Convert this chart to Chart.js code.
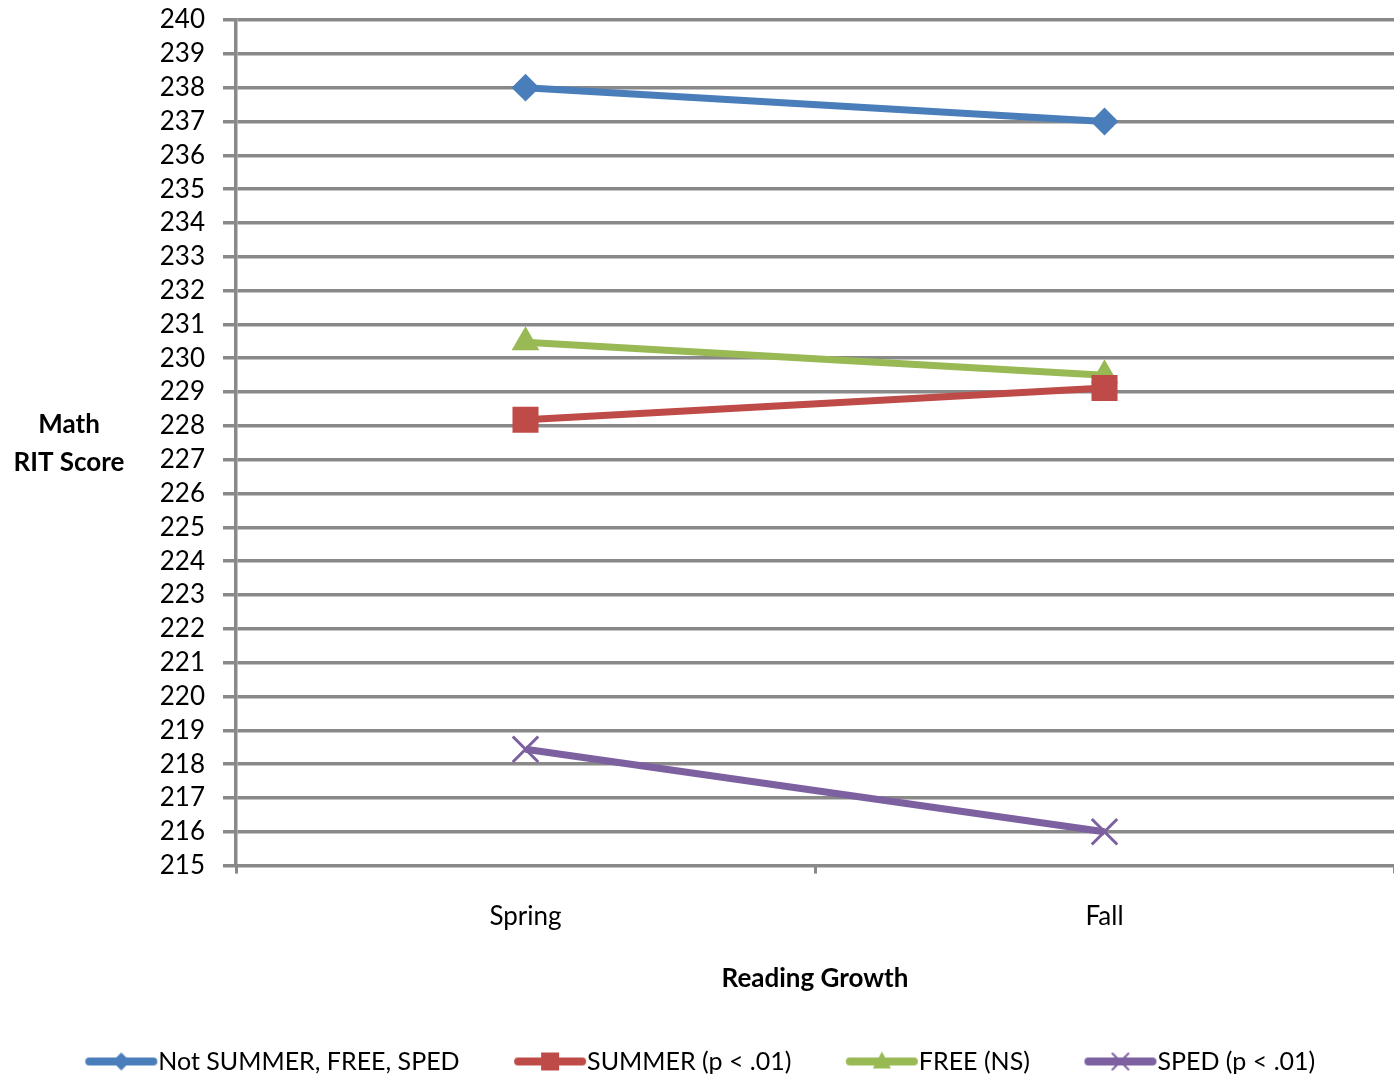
<!DOCTYPE html>
<html>
<head>
<meta charset="utf-8">
<script src="https://cdn.jsdelivr.net/npm/chart.js@4/dist/chart.umd.min.js"></script>
<style>
  html, body { margin: 0; padding: 0; background: #fff; overflow: hidden; }
  canvas { display: block; }
</style>
</head>
<body>
<canvas id="ritChart" width="1394" height="1076"></canvas>
<script>
const seasons = ["Spring", "Fall"]
const notSummerFreeSped = [238, 237]
const summer = [228.18, 229.12]
const free = [230.47, 229.5]
const sped = [218.44, 216]
const seriesNames = ["Not SUMMER, FREE, SPED", "SUMMER (p < .01)", "FREE (NS)", "SPED (p < .01)"]

const gridGray = "#898989"
const FONT = "Lato"

// line + marker swatch for the legend; legend box is 67 wide, image is 92 wide
// centred on it, so the line runs from box x+7 to x+77 (just before the text)
function legendSwatch(color, style) {
  const c = document.createElement("canvas")
  c.width = 92
  c.height = 26
  const g = c.getContext("2d")
  g.strokeStyle = color
  g.fillStyle = color
  g.lineWidth = 8
  g.lineCap = "round"
  g.beginPath()
  g.moveTo(23, 13)
  g.lineTo(87, 13)
  g.stroke()
  const x = 55, y = 13
  g.beginPath()
  if (style === "rectRot") {
    g.moveTo(x - 9, y); g.lineTo(x, y - 9); g.lineTo(x + 9, y); g.lineTo(x, y + 9); g.closePath(); g.fill()
  } else if (style === "rect") {
    g.rect(x - 9, y - 9, 18, 18); g.fill()
  } else if (style === "triangle") {
    g.moveTo(x, y - 10); g.lineTo(x + 9, y + 7); g.lineTo(x - 9, y + 7); g.closePath(); g.fill()
  } else {
    g.lineWidth = 2
    g.moveTo(x - 8, y - 8); g.lineTo(x + 8, y + 8)
    g.moveTo(x + 8, y - 8); g.lineTo(x - 8, y + 8)
    g.stroke()
  }
  return c
}

const styles = [
  { color: "#4A7EBB", point: "rectRot", radius: 12.5, border: 2 },
  { color: "#BE4B48", point: "rect", radius: 17, border: 2 },
  { color: "#98B954", point: "triangle", radius: 14, border: 2 },
  { color: "#7D60A0", point: "crossRot", radius: 18, border: 3 },
]
const values = [notSummerFreeSped, summer, free, sped]

// horizontal y-axis title on the left
const sideTitle = {
  id: "sideTitle",
  afterDraw(chart) {
    const ctx = chart.ctx
    ctx.save()
    ctx.font = "bold 26px " + FONT
    ctx.fillStyle = "#000"
    ctx.textAlign = "center"
    ctx.textBaseline = "middle"
    ctx.fillText("Math", 69, 425)
    ctx.fillText("RIT Score", 69, 463)
    ctx.restore()
  },
}

new Chart(document.getElementById("ritChart"), {
  type: "line",
  data: {
    labels: seasons,
    datasets: values.map((d, i) => ({
      label: seriesNames[i],
      data: d,
      borderColor: styles[i].color,
      backgroundColor: styles[i].color,
      borderWidth: 7,
      pointStyle: styles[i].point,
      pointRadius: styles[i].radius,
      pointHoverRadius: styles[i].radius,
      pointBorderWidth: styles[i].border,
      pointBorderColor: styles[i].color,
      pointBackgroundColor: styles[i].color,
      tension: 0,
      fill: false,
    })),
  },
  options: {
    responsive: false,
    animation: false,
    layout: { autoPadding: false, padding: { top: 20, right: 0, left: 0, bottom: -8 } },
    plugins: {
      tooltip: { enabled: false },
      legend: {
        position: "bottom",
        labels: {
          usePointStyle: true,
          pointStyleWidth: 67,
          padding: 48,
          color: "#000",
          font: { family: FONT, size: 25 },
          generateLabels: (chart) =>
            chart.data.datasets.map((ds, i) => ({
              text: ds.label,
              pointStyle: legendSwatch(styles[i].color, styles[i].point),
              fillStyle: styles[i].color,
              strokeStyle: styles[i].color,
              lineWidth: 0,
              hidden: false,
              datasetIndex: i,
              fontColor: "#000",
            })),
        },
      },
    },
    scales: {
      x: {
        offset: true,
        afterFit: (scale) => { scale.paddingLeft = 0; scale.paddingRight = 0 },
        grid: {
          offset: true,
          drawOnChartArea: false,
          color: gridGray,
          lineWidth: 3,
          tickLength: 8,
        },
        border: { display: true, color: gridGray, width: 3 },
        ticks: { color: "#000", padding: 27, font: { family: FONT, size: 26 } },
        title: {
          display: true,
          text: "Reading Growth",
          color: "#000",
          font: { family: FONT, size: 26, weight: "bold" },
          padding: { top: 4, bottom: 7 },
        },
      },
      y: {
        min: 215,
        max: 240,
        afterFit: (scale) => {
          scale.width = 236
          scale.paddingTop = 0
          scale.paddingBottom = 0
        },
        grid: {
          color: gridGray,
          lineWidth: 3.5,
          tickLength: 13,
        },
        border: { display: true, color: gridGray, width: 3.5 },
        ticks: {
          stepSize: 1,
          autoSkip: false,
          color: "#000",
          padding: 18,
          font: { family: FONT, size: 26 },
        },
      },
    },
  },
  plugins: [sideTitle],
})
</script>
</body>
</html>
